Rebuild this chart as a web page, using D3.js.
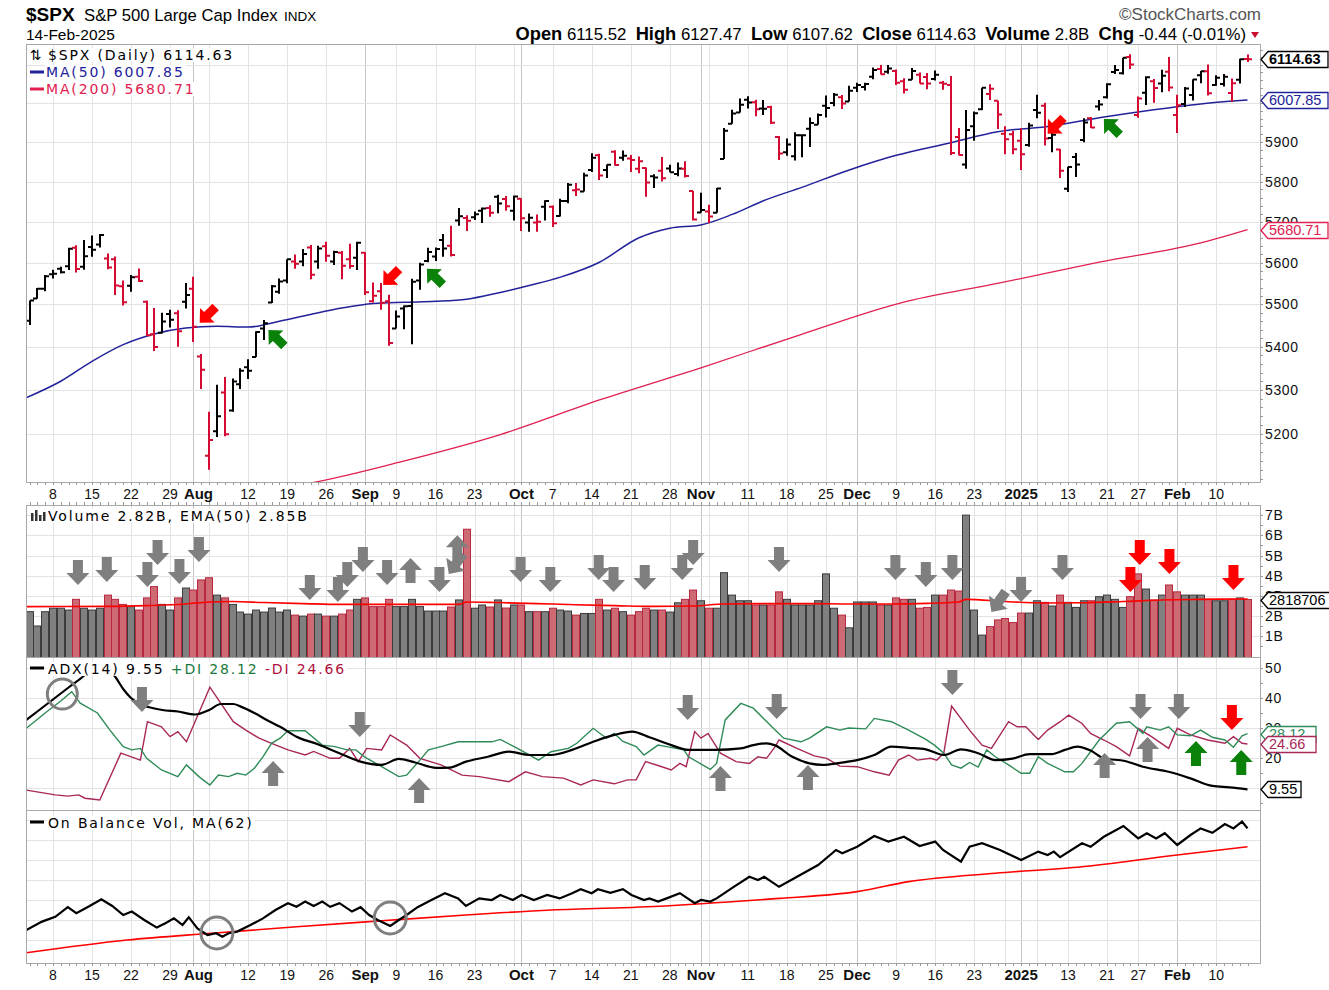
<!DOCTYPE html>
<html><head><meta charset="utf-8">
<script src="https://cdn.jsdelivr.net/npm/d3@7/dist/d3.min.js"></script>
<style>html,body{margin:0;padding:0;background:#fff;}svg{display:block;}</style>
</head><body>
<svg id="chart" width="1329" height="990"></svg>
<script>
// ================= DATA =================
const tradingDays = {
 "2024-07":[2,3,5,8,9,10,11,12,15,16,17,18,19,22,23,24,25,26,29,30,31],
 "2024-08":[1,2,5,6,7,8,9,12,13,14,15,16,19,20,21,22,23,26,27,28,29,30],
 "2024-09":[3,4,5,6,9,10,11,12,13,16,17,18,19,20,23,24,25,26,27,30],
 "2024-10":[1,2,3,4,7,8,9,10,11,14,15,16,17,18,21,22,23,24,25,28,29,30,31],
 "2024-11":[1,4,5,6,7,8,11,12,13,14,15,18,19,20,21,22,25,26,27,29],
 "2024-12":[2,3,4,5,6,9,10,11,12,13,16,17,18,19,20,23,24,26,27,30,31],
 "2025-01":[2,3,6,7,8,10,13,14,15,16,17,21,22,23,24,27,28,29,30,31],
 "2025-02":[3,4,5,6,7,10,11,12,13,14]
};
const prevClose = 5475.09;
const opens = [5461,5514,5537,5572,5585,5591,5636,5590,5638,5644,
 5610,5608,5543,5544,5566,5506,5429,5433,5477,5479,
 5506,5537,5377,5151,5206,5294,5253,5313,5352,5376,
 5443,5504,5530,5557,5603,5603,5637,5603,5640,5603,
 5624,5608,5612,5624,5507,5531,5507,5443,5490,5496,
 5557,5604,5615,5655,5641,5703,5709,5711,5727,5734,
 5762,5756,5727,5757,5698,5698,5737,5737,5714,5751,
 5778,5775,5829,5866,5829,5875,5860,5858,5832,5834,
 5813,5827,5833,5819,5832,5776,5723,5725,5722,5857,
 5947,5976,6009,6002,5986,5990,5913,5874,5864,5917,
 5934,5944,5993,6000,6015,6004,6040,6042,6069,6089,
 6082,6084,6057,6061,6074,6068,6063,6053,6047,5913,
 5843,5940,5984,6024,6006,5921,5920,5903,5892,5982,
 5993,5910,5881,5782,5862,5905,5961,5991,6015,6081,
 6078,6121,5969,6027,6057,6051,6082,5969,5998,6021,
 6073,6083,6047,6050,6026,6061,6115.52];
const highs = [5509.1,5539,5570,5583,5590,5636,5642,5655,5666,5670,
 5622,5615,5557,5570,5586,5509,5491,5480,5487,5486,
 5551,5566,5383,5250,5312,5330,5326,5350,5371,5436,
 5463,5546,5562,5608,5620,5633,5643,5641,5651,5629,
 5628,5646,5651,5626,5552,5551,5523,5485,5497,5561,
 5600,5636,5637,5670,5690,5734,5716,5725,5735,5741,
 5767,5764,5765,5758,5720,5718,5753,5740,5757,5796,
 5796,5822,5871,5870,5843,5879,5878,5867,5863,5835,
 5818,5862,5842,5848,5851,5776,5772,5742,5784,5936,
 5983,6012,6018,6009,6008,5993,5915,5909,5925,5920,
 5963,5973,6020,6026,6021,6045,6053,6053,6093,6100,
 6100,6088,6065,6092,6080,6079,6085,6058,6071,5936,
 5982,5978,6040,6049,6006,5940,5929,5935,5949,6022,
 6001,5928,5882,5837,5872,5961,5964,6008,6052,6100,
 6119,6128,6017,6070,6063,6087,6121,6022,6042,6062,
 6084,6101,6073,6076,6064,6116,6127.47];
const lows = [5451,5513,5531,5562,5574,5582,5576,5583,5614,5637,
 5584,5522,5497,5530,5553,5425,5390,5431,5445,5400,
 5490,5411,5302,5120,5193,5195,5250,5302,5325,5376,
 5416,5503,5525,5550,5585,5591,5560,5585,5602,5594,
 5560,5585,5582,5522,5504,5487,5402,5443,5441,5406,
 5535,5601,5604,5614,5615,5690,5677,5704,5697,5712,
 5721,5727,5703,5677,5675,5675,5703,5687,5713,5746,
 5764,5775,5824,5804,5809,5840,5852,5824,5821,5762,
 5784,5800,5823,5813,5810,5703,5723,5696,5722,5857,
 5947,5976,5986,5966,5969,5946,5854,5865,5853,5861,
 5887,5944,5963,5992,5985,6004,6029,6033,6062,6075,
 6077,6047,6025,6061,6051,6036,6059,6035,5867,5866,
 5832,5903,5982,6008,5933,5869,5869,5829,5888,5961,
 5891,5874,5809,5774,5811,5899,5936,5981,6012,6076,
 6075,6089,5962,5995,6001,6028,6031,5923,5990,6007,
 6052,6020,6045,6043,6003,6051,6107.62];
const closes = [5509.01,5537.02,5567.19,5572.85,5576.98,5633.91,5584.54,5615.35,5631.22,5667.20,
 5588.27,5544.59,5505.00,5564.41,5555.74,5427.13,5399.22,5459.10,5463.54,5436.44,
 5522.30,5446.68,5346.56,5186.33,5240.03,5199.50,5319.31,5344.16,5344.39,5434.43,
 5455.21,5543.22,5554.25,5608.25,5597.12,5620.85,5570.64,5634.61,5616.84,5625.80,
 5592.18,5591.96,5648.40,5528.93,5520.07,5503.41,5408.42,5471.05,5495.52,5554.13,
 5595.76,5626.02,5633.09,5634.58,5618.26,5713.64,5702.55,5718.57,5732.93,5722.26,
 5745.37,5738.17,5762.48,5708.75,5709.54,5699.94,5751.07,5695.94,5751.13,5792.04,
 5780.05,5815.03,5859.85,5815.26,5842.47,5841.47,5864.67,5853.98,5851.20,5797.42,
 5809.86,5808.12,5823.52,5832.92,5813.67,5705.45,5728.80,5712.69,5782.76,5929.04,
 5973.10,5995.54,6001.35,5983.99,5985.38,5949.17,5870.62,5893.62,5916.98,5917.11,
 5948.71,5969.34,5987.37,6021.63,5998.74,6032.38,6047.15,6049.88,6086.49,6075.11,
 6090.27,6052.85,6034.91,6084.19,6051.25,6051.09,6074.08,6050.61,5872.16,5867.08,
 5930.85,5974.07,6040.04,6037.59,5970.84,5906.94,5881.63,5868.55,5942.47,5975.38,
 5909.03,5918.25,5827.04,5836.22,5842.91,5949.91,5937.34,5996.66,6049.24,6086.37,
 6118.71,6101.24,6012.28,6067.70,6039.31,6071.17,6040.53,5994.57,6037.88,6061.48,
 6083.57,6025.99,6066.44,6068.50,6051.97,6115.07,6114.63];
// volume in billions of shares
const volumes = [2.22,1.51,2.22,2.39,2.39,2.30,2.83,2.39,2.30,2.39,
 3.04,2.83,2.58,2.47,2.30,2.90,3.46,2.58,2.30,2.90,
 3.39,3.29,3.79,3.90,3.04,2.90,2.58,2.20,2.10,2.30,
 2.20,2.40,2.20,2.30,2.05,2.00,2.10,2.10,2.00,2.00,
 2.10,2.30,2.83,2.90,2.47,2.47,2.83,2.47,2.47,2.83,
 2.47,2.25,2.25,2.25,2.45,2.80,6.30,2.39,2.55,2.45,
 2.80,2.40,2.55,2.55,2.22,2.22,2.22,2.39,2.30,2.25,
 2.05,2.13,2.13,2.83,2.30,2.39,2.22,2.05,2.22,2.39,
 2.30,2.30,2.20,2.66,2.83,3.29,2.76,2.39,2.39,4.15,
 3.04,2.76,2.76,2.55,2.55,2.55,3.20,2.83,2.55,2.55,
 2.55,2.76,4.09,2.39,2.05,1.42,2.70,2.70,2.70,2.55,
 2.55,2.90,2.83,2.83,2.39,2.43,3.04,3.04,3.29,3.24,
 7.00,2.30,1.06,1.48,1.81,1.88,1.68,2.15,2.15,2.76,
 2.68,2.50,3.04,2.68,2.43,2.76,2.76,2.96,3.04,2.83,
 2.43,2.96,4.09,3.34,2.80,3.04,3.54,3.20,3.04,3.04,
 3.04,2.83,2.76,2.76,2.83,2.90,2.82];
// indicator lines as [bar index, value]
const volEma50 = [[-0.4,2.47],[10,2.48],[15,2.52],[20,2.6],[23,2.7],[26,2.72],[30,2.67],[35,2.62],[40,2.58],[45,2.58],[50,2.58],[55,2.58],[56,2.7],[60,2.67],[65,2.62],[70,2.56],[75,2.52],[80,2.48],[85,2.5],[89,2.6],[95,2.62],[100,2.62],[105,2.6],[110,2.6],[115,2.63],[119,2.7],[120,2.83],[125,2.72],[130,2.65],[135,2.66],[140,2.72],[145,2.8],[150,2.83],[156,2.85]];
const ma50 = [[-0.45,5282],[4,5320],[8,5366],[12,5405],[16,5430],[20,5444],[24,5448],[28,5446],[32,5460],[36,5476],[40,5491],[44,5502],[48,5505],[52,5507],[56,5512],[60,5527],[64,5545],[68,5565],[73,5601],[78,5660],[82,5684],[86,5692],[90,5718],[94,5752],[99,5786],[105,5829],[111,5866],[118,5898],[124,5926],[131,5941],[137,5962],[144,5983],[150,5998],[156,6007.85]];
const ma200 = [[30,5075],[36.6,5093],[47.4,5137],[60.2,5198],[73,5277],[86,5351],[98.7,5428],[111.5,5503],[124.3,5551],[137,5601],[150,5648],[156,5680.71]];
const adx14 = [[-0.4,32.7],[1,35.5],[3,39.5],[5,43.5],[7,47.5],[8,50],[9,51],[10,50],[11,47],[12,43],[13,40],[14.4,37.7],[15.2,37],[17,36],[19,35.5],[21.2,34.5],[23,36],[24.5,38],[26.1,38],[27,37.2],[28.8,35],[30.5,32.5],[32.1,30.4],[34.2,27.1],[37,24.5],[39.7,21.6],[42.4,18.8],[45.1,17.7],[47.3,19.7],[49.4,18.5],[52.1,16.7],[53.8,16.8],[55.9,18.8],[58.7,20.4],[61.4,22.1],[64.1,21],[66.8,21],[69.5,22.7],[72.2,25.4],[74.9,27.7],[77.2,28.8],[79.4,26.9],[82.2,24.3],[84.4,22.7],[87.8,22.7],[91.1,23.2],[92.7,24.3],[94.4,24.9],[95.5,24.2],[97.7,20.4],[99.9,18.2],[101.6,17.7],[103.8,18.4],[106,19.3],[108.2,21],[110.4,23.8],[112.6,23.4],[114.8,22.9],[117.1,21],[119.3,22.9],[121.5,21.6],[123.7,19.3],[125.9,19.8],[128.1,21.3],[130.9,21.3],[132.6,22.7],[134.2,23.8],[135.9,22.5],[137.6,19.9],[140.3,19],[142.6,17.1],[145.9,15.4],[148.7,13.2],[151.5,10.7],[153.7,10.2],[156,9.55]];
const plusDI = [[-0.4,29.9],[2,35],[4,39],[5.4,42.1],[6.5,38.3],[8.7,35],[10.3,29.3],[12,23.8],[13.1,22.7],[14.2,23.2],[15,19.9],[16.9,16],[19,13.8],[20.1,17.7],[21.7,13.8],[23.1,11],[24.2,14.3],[25.5,13.8],[26.6,14.9],[27.7,14.3],[28.8,16.6],[29.9,20.4],[31,24.9],[32.1,26.6],[33.1,29.1],[35.3,29.1],[37.5,24.3],[39.1,23.8],[40.7,22.7],[41.8,22.7],[42.9,20.4],[45.1,17.1],[47.3,13.8],[48.3,14.3],[50,19.3],[51.1,22.7],[52.7,23.8],[54.9,25.4],[57,25.4],[59.2,25.4],[60.3,26.2],[62.5,23.2],[65.2,19.3],[66.8,22.1],[69,23.2],[70.1,24.9],[72.2,29.9],[73.9,26.6],[74.9,28.2],[76,25.5],[77.7,23.8],[78.7,21],[80.5,24.3],[81.6,23.8],[83.8,22.7],[84.4,20.4],[87.2,16.2],[88,18.2],[89.1,32.7],[91.1,38.2],[92.7,36.6],[95.5,29.3],[96.6,26.6],[98.8,25.4],[99.9,26.6],[102.1,30.4],[103.8,29.3],[104.9,30],[107.1,29.7],[108.2,33.2],[110.4,32.1],[112.6,29.3],[114.8,26.2],[115.9,24.3],[117.1,21.6],[118.1,17.7],[119.3,16.6],[120.4,18.5],[121.5,17],[122.6,22.7],[123.7,20.4],[125.4,17.7],[127,14.9],[128.1,14.9],[129.2,20.4],[130.4,18.2],[132.6,15.4],[133.7,15.4],[134.8,18.2],[137,26],[139.2,31.6],[140.9,32.1],[142.6,28.2],[143.1,30.4],[144.8,29.3],[145.9,30.4],[147,27.7],[148.7,27.4],[150,29.3],[151.5,26.9],[153.1,26],[154.2,23.6],[155.3,27.4],[156,28.12]];
const minusDI = [[-0.4,9.3],[3.3,7.7],[4.9,7.3],[6.3,7.7],[7.1,6.6],[9,6],[11.7,21.6],[14.2,19.3],[15.1,32.1],[16.9,30.4],[18,27.1],[19,28.8],[20.1,25.4],[23.1,43.6],[26.1,32.1],[27.7,29.3],[29.4,26.6],[31,24.9],[33.1,22.7],[35.3,21],[36.4,22.2],[38.5,19.9],[39.7,19.9],[41,23.2],[42.1,18.8],[43.2,23.2],[45.1,22.7],[46.2,27.7],[48.3,24.3],[50,19.9],[52.7,17.7],[55.4,14.3],[57.6,13.8],[61.4,12.1],[63.5,15.4],[65.7,13.8],[68.4,13.3],[70.6,11],[72.2,12.7],[74.9,11.4],[76.6,12.7],[77.7,12.7],[78.9,18.8],[80.5,17.5],[82.2,16],[83.3,18.2],[84.1,17.1],[85.2,28.8],[86,26.6],[86.9,28.2],[88.5,21.6],[90.5,18.8],[92.2,18.2],[93.3,20.4],[94.4,19.9],[95.5,23.8],[96,26],[98.3,23.2],[100.5,20.7],[102.1,19.9],[103.8,17.3],[106,17.1],[108.2,15.4],[110.1,14.3],[111.3,19.3],[112.6,21],[113.7,19.3],[115.4,19.9],[116.2,19.3],[117.1,21.6],[118.1,37.3],[120.4,29.3],[122,24.3],[123.2,23.2],[125.4,32.1],[126.5,30.4],[127.6,30.4],[129.2,26.2],[130.4,29.3],[132,32.1],[133.1,34.3],[134.8,31.5],[135.9,28.2],[137.6,26],[139.2,23.8],[140.9,20.7],[142,29.9],[143.7,27.1],[145.9,23.2],[147,29.9],[148.7,27.7],[150.9,26],[153.1,24.9],[154.2,27.1],[155.3,24.9],[156,24.66]];
// On Balance Volume (chart units, unlabeled axis)
const obv = [[-0.4,2.5],[1.6,4.6],[3.3,5.8],[4.9,8.2],[6,6.7],[7.7,8.5],[9.2,10.2],[10.6,8.5],[12,6.25],[13.1,7.1],[14.7,5],[16.3,3.1],[17.4,4.2],[18.5,5.4],[19.6,3.75],[20.4,5.7],[21.5,2.9],[22.8,1.25],[23.9,1.7],[24.7,0.8],[25.5,1.7],[26.6,2.1],[28.3,3.75],[29.9,5.4],[31.5,7.5],[33.1,9.2],[34.2,8.3],[35.3,9.6],[36.4,8.5],[37.5,9.6],[38.5,8.3],[39.7,9.2],[41.3,7.1],[42.4,8.2],[43.5,6.25],[44.6,5],[46.2,3.5],[47.3,5],[48.3,6.25],[49.7,8.2],[51.1,9.6],[53.2,11.7],[54.9,10.4],[55.9,8.5],[57.6,10.4],[59.2,10],[60.3,11.25],[61.9,10],[63,11.25],[64.6,10],[66.3,11.25],[67.9,10.4],[69.5,11.7],[70.6,12.7],[72,11.7],[72.8,12.7],[74.4,11.8],[76,12.7],[77.1,11.25],[78.7,10],[79.4,10.4],[80.5,9.6],[81.6,10.4],[83.3,11.7],[85.2,9.2],[86,10],[87.2,9.6],[88,10.4],[90.2,13.3],[92.2,15.8],[93.3,15],[94.1,15.8],[96,13.3],[98.3,15.8],[101,18.75],[103.3,22.5],[104.1,21.7],[106,23.3],[108.2,26],[110,24.6],[112,25.8],[114,23.5],[116,24.6],[117,22.5],[119.3,19.6],[120.4,23.3],[122,24.2],[124.3,22.5],[127,20],[129.2,22.1],[130.4,21.25],[131.2,22.1],[132,20.7],[134.8,24.2],[135.9,23.3],[137.6,25.8],[140.1,28.5],[142,25.4],[143.1,26.7],[144.3,25.4],[145.4,26.7],[147,23.75],[148.7,26.25],[150,27.9],[151.5,26.8],[153.1,29],[154.2,27.9],[155.3,29.6],[156,27.9]];
const obvMa62 = [[-0.4,-3.2],[12.5,0],[23.4,1.7],[34.2,3.3],[45.1,4.8],[55.9,6.25],[66.8,7.5],[81.4,8.5],[87.8,9.3],[96,10.4],[106,12.1],[112.6,14.6],[123.7,16.7],[134.8,18.3],[145.9,21],[156,23.3]];

// axis ticks / labels
const priceGrid = [5200,5300,5400,5500,5600,5700,5800,5900,6000,6100];
const priceLabels = [5200,5300,5400,5500,5600,5700,5800,5900];
const volTicks = [1,2,3,4,5,6,7];
const adxTicks = [10,20,30,40,50];
const adxLabels = [20,30,40,50];
const obvGrid = [0,5,10,15,20,25,30];
const xLabels = [[3,"8"],[8,"15"],[13,"22"],[18,"29"],[21,"Aug",1],[28,"12"],[33,"19"],[38,"26"],[43,"Sep",1],[47,"9"],[52,"16"],[57,"23"],[63,"Oct",1],[67,"7"],[72,"14"],[77,"21"],[82,"28"],[86,"Nov",1],[92,"11"],[97,"18"],[102,"25"],[106,"Dec",1],[111,"9"],[116,"16"],[121,"23"],[127,"2025",1],[133,"13"],[138,"21"],[142,"27"],[147,"Feb",1],[152,"10"]];

// annotations: [bar index, value at tip, colour, rotation]
const priceArrows = [[21.8,5456,"r",45],[30.6,5439,"g",135],[45.3,5546,"r",45],[50.9,5585,"g",135],[130.4,5921,"r",45],[137.6,5959,"g",135]];
const volArrows = [[6.2,3.54,"k",0],[9.9,3.69,"k",0],[15.1,3.44,"k",0],[16.4,4.53,"k",0],[19.2,3.59,"k",0],[21.7,4.68,"k",0],[35.9,2.8,"k",0],[39.5,2.7,"k",0],[40.7,3.44,"k",0],[42.7,4.18,"k",0],[45.8,3.54,"k",0],[48.8,4.88,"k",180],[52.5,3.19,"k",0],[53.7,4.08,"k",35],[54.8,6.0,"k",180],[62.9,3.69,"k",0],[66.7,3.19,"k",0],[72.9,3.79,"k",0],[74.8,3.19,"k",0],[78.8,3.29,"k",0],[83.6,3.79,"k",0],[85.0,4.53,"k",0],[96.0,4.18,"k",0],[110.9,3.79,"k",0],[114.8,3.44,"k",0],[118.2,3.79,"k",0],[123.2,2.2,"k",35],[127.0,2.7,"k",0],[132.3,3.79,"k",0],[142.2,4.53,"r",0],[141.0,3.19,"r",0],[146.0,4.08,"r",0],[154.2,3.29,"r",0]];
const adxArrows = [[14.4,35.3,"k",0],[31.2,19,"k",180],[42.3,27,"k",0],[49.9,13.3,"k",180],[84.3,32.7,"k",0],[88.5,17.3,"k",180],[95.7,33,"k",0],[99.7,17.7,"k",180],[118.2,41,"k",0],[137.7,21.7,"k",180],[142.3,33,"k",0],[143.2,27,"k",180],[147.2,33,"k",0],[154,29.3,"r",0],[149.4,25.7,"g",180],[155.2,22.7,"g",180]];
const adxCircles = [[4.2,41.3]];
const obvCircles = [[24,1.75],[46.2,5.5]];

// ================= DRAWING =================
const svg = d3.select("#chart");
const L = 26, R = 1260;
const P = {price:[44,482], vol:[505,657], adx:[657,810], obv:[810,963]};
const FA = "'Liberation Sans', Arial, sans-serif";
const FL = "'DejaVu Sans', Verdana, sans-serif";
const FN = "'Liberation Sans Narrow', 'Liberation Sans', Arial, sans-serif";
const COL = {up:"#000000", down:"#d40a33", ma50:"#22229a", ma200:"#e02050", grid:"#e3e3e3", mgrid:"#c4c4c4",
  vUpF:"#808080", vUpS:"#3c3c3c", vDnF:"#cd6a74", vDnS:"#b8283e", pdi:"#2e8b57", mdi:"#a8285a",
  arrow:{k:"#7f7f7f", r:"#ff0000", g:"#0a820a"}};

const dates = [];
Object.keys(tradingDays).forEach(k => { const [yy,mm] = k.split("-").map(Number); tradingDays[k].forEach(d => dates.push(new Date(yy, mm-1, d))); });
const n = closes.length;

const x = d3.scaleLinear().domain([-0.45, 157.6]).range([L, R]);
const yP = d3.scaleLog().domain([5093.1, 6155.4]).range([P.price[1], P.price[0]]);
const yV = d3.scaleLinear().domain([0, 7.5]).range([656.5, 505]);
const yA = d3.scaleLinear().domain([8/3, 161/3]).range([P.adx[1], P.adx[0]]);
const yO = d3.scaleLinear().domain([-5.75, 32.5]).range([P.obv[1], P.obv[0]]);

const defs = svg.append("defs");
Object.entries(P).forEach(([k,[t,b]]) => defs.append("clipPath").attr("id","clip-"+k).append("rect").attr("x",L).attr("y",t).attr("width",R-L).attr("height",b-t));

// week starts / month starts
const weekStarts = [], monthStarts = [];
for (let i = 1; i < n; i++) {
  const a = dates[i-1], b = dates[i];
  if (b.getMonth() !== a.getMonth()) monthStarts.push(i);
  if (b.getDay() < a.getDay() || (b - a) > 3.5*864e5) weekStarts.push(i);
}

// ---- grids
const gGrid = svg.append("g");
Object.entries(P).forEach(([k,[t,b]]) => {
  gGrid.selectAll(null).data(weekStarts).join("line")
    .attr("x1", d => Math.round(x(d))+0.5).attr("x2", d => Math.round(x(d))+0.5).attr("y1", t).attr("y2", b)
    .attr("stroke", COL.grid);
  gGrid.selectAll(null).data(monthStarts).join("line")
    .attr("x1", d => Math.round(x(d))+0.5).attr("x2", d => Math.round(x(d))+0.5).attr("y1", t).attr("y2", b)
    .attr("stroke", COL.mgrid);
});
function hgrid(vals, scale) {
  gGrid.selectAll(null).data(vals).join("line").attr("x1", L).attr("x2", R)
    .attr("y1", d => Math.round(scale(d))+0.5).attr("y2", d => Math.round(scale(d))+0.5).attr("stroke", COL.grid);
}
hgrid(priceGrid, yP); hgrid(volTicks, yV); hgrid(adxTicks, yA); hgrid(obvGrid, yO);

// ---- price panel
const gPrice = svg.append("g").attr("clip-path","url(#clip-price)");
const isUp = i => closes[i] >= (i ? closes[i-1] : prevClose);
const lineGen = sc => d3.line().x(d => x(d[0])).y(d => sc(d[1]));
gPrice.append("path").datum(ma200).attr("d", lineGen(yP).curve(d3.curveMonotoneX)).attr("fill","none").attr("stroke",COL.ma200).attr("stroke-width",1.3);
gPrice.append("path").datum(ma50).attr("d", lineGen(yP).curve(d3.curveMonotoneX)).attr("fill","none").attr("stroke",COL.ma50).attr("stroke-width",1.5);
gPrice.selectAll("path.bar").data(d3.range(n)).join("path").attr("class","bar")
  .attr("d", i => { const xi = Math.round(x(i)); return `M${xi},${yP(highs[i])}V${yP(lows[i])}M${xi-4},${yP(opens[i])}H${xi}M${xi},${yP(closes[i])}H${xi+4}`; })
  .attr("fill","none").attr("stroke", i => isUp(i) ? COL.up : COL.down).attr("stroke-width",2);

// arrow glyph: tip at origin pointing down
const arrowD = "M0,0 L-11.5,-12 L-5,-12 L-5,-25 L5,-25 L5,-12 L11.5,-12 Z";
function drawArrows(g, data, ys, scale) {
  g.selectAll(null).data(data).join("path").attr("d", arrowD)
    .attr("transform", d => `translate(${x(d[0])},${ys(d[1])}) rotate(${d[3]}) scale(${scale})`)
    .attr("fill", d => COL.arrow[d[2]]);
}
drawArrows(svg.append("g"), priceArrows, yP, 0.9);

// ---- volume panel
const gVol = svg.append("g").attr("clip-path","url(#clip-vol)");
gVol.selectAll("rect").data(d3.range(n)).join("rect")
  .attr("x", i => Math.round(x(i)) - 3.5).attr("width", 7)
  .attr("y", i => yV(volumes[i])).attr("height", i => yV(0) - yV(volumes[i]) + 2)
  .attr("fill", i => isUp(i) ? COL.vUpF : COL.vDnF).attr("stroke", i => isUp(i) ? COL.vUpS : COL.vDnS).attr("stroke-width",1);
gVol.append("path").datum(volEma50).attr("d", lineGen(yV).curve(d3.curveMonotoneX)).attr("fill","none").attr("stroke","#ff0000").attr("stroke-width",1.6);
drawArrows(svg.append("g"), volArrows, yV, 1);

// ---- ADX panel
const gAdx = svg.append("g").attr("clip-path","url(#clip-adx)");
gAdx.append("path").datum(minusDI).attr("d", lineGen(yA)).attr("fill","none").attr("stroke",COL.mdi).attr("stroke-width",1.4);
gAdx.append("path").datum(plusDI).attr("d", lineGen(yA)).attr("fill","none").attr("stroke",COL.pdi).attr("stroke-width",1.4);
gAdx.append("path").datum(adx14).attr("d", lineGen(yA).curve(d3.curveMonotoneX)).attr("fill","none").attr("stroke","#000").attr("stroke-width",2.2);
drawArrows(svg.append("g"), adxArrows, yA, 1);
svg.append("g").selectAll(null).data(adxCircles).join("circle").attr("cx", d => x(d[0])).attr("cy", d => yA(d[1])).attr("r",15)
  .attr("fill","none").attr("stroke","#7f7f7f").attr("stroke-width",3);

// ---- OBV panel
const gObv = svg.append("g").attr("clip-path","url(#clip-obv)");
gObv.append("path").datum(obvMa62).attr("d", lineGen(yO).curve(d3.curveMonotoneX)).attr("fill","none").attr("stroke","#ff0000").attr("stroke-width",1.6);
gObv.append("path").datum(obv).attr("d", lineGen(yO)).attr("fill","none").attr("stroke","#000").attr("stroke-width",2.2);
svg.append("g").selectAll(null).data(obvCircles).join("circle").attr("cx", d => x(d[0])).attr("cy", d => yO(d[1])).attr("r",16)
  .attr("fill","none").attr("stroke","#7f7f7f").attr("stroke-width",3);

// ---- frames
Object.values(P).forEach(([t,b]) => svg.append("rect").attr("x",L+0.5).attr("y",t+0.5).attr("width",R-L).attr("height",b-t).attr("fill","none").attr("stroke","#a8a8a8"));

// minor day ticks on x label strips
[[P.price[1],1],[P.vol[0],-1],[P.obv[1],1]].forEach(([yy,dir]) => {
  svg.append("g").selectAll(null).data(d3.range(n)).join("line")
    .attr("x1", i => Math.round(x(i))+0.5).attr("x2", i => Math.round(x(i))+0.5).attr("y1", yy).attr("y2", yy + 3*dir)
    .attr("stroke","#9a9a9a");
});
// right axis minor ticks
const rt = svg.append("g");
rt.selectAll(null).data(d3.range(5100, 6160, 20)).join("line").attr("x1",R).attr("x2",R+3)
  .attr("y1", d => Math.round(yP(d))+0.5).attr("y2", d => Math.round(yP(d))+0.5).attr("stroke","#9a9a9a");
rt.selectAll(null).data(d3.range(0.5, 7.5, 0.5)).join("line").attr("x1",R).attr("x2",R+3)
  .attr("y1", d => Math.round(yV(d))+0.5).attr("y2", d => Math.round(yV(d))+0.5).attr("stroke","#9a9a9a");
rt.selectAll(null).data(d3.range(5, 54, 5)).join("line").attr("x1",R).attr("x2",R+3)
  .attr("y1", d => Math.round(yA(d))+0.5).attr("y2", d => Math.round(yA(d))+0.5).attr("stroke","#9a9a9a");

// ---- x labels
function xAxisLabels(yBase) {
  svg.append("g").selectAll(null).data(xLabels).join("text")
    .attr("x", d => x(d[0]) + (d[1]==="Aug" ? 5 : 0)).attr("y", yBase).attr("text-anchor","middle")
    .attr("font-family", FA).attr("font-size", d => d[2] ? 15 : 14).attr("font-weight", d => d[2] ? "bold" : "normal")
    .attr("fill","#111").text(d => d[1]);
}
xAxisLabels(499); xAxisLabels(980);

// ---- right axis labels
function yLabels(vals, sc, fmt) {
  svg.append("g").selectAll(null).data(vals).join("text").attr("x", R+5).attr("y", d => sc(d)).attr("dy","0.36em")
    .attr("font-family", FA).attr("font-size",14).attr("letter-spacing","0.6px").attr("fill","#111").text(fmt);
}
yLabels(priceLabels, yP, d => d);
yLabels(volTicks, yV, d => d + "B");
yLabels(adxLabels, yA, d => d);

// ---- value tags
function tag(v, sc, label, color, w, bold) {
  const yy = Math.round(sc(v));
  const g = svg.append("g");
  g.append("path").attr("d", `M${R+1},${yy+0.5} L${R+8},${yy-7.5} L${R+w},${yy-7.5} L${R+w},${yy+8.5} L${R+8},${yy+8.5} Z`)
    .attr("fill","#fff").attr("stroke",color).attr("stroke-width",1.3);
  g.append("text").attr("x", R+9).attr("y", yy).attr("dy","0.37em").attr("font-family",FA).attr("font-size",14.5)
    .attr("font-weight", bold ? "bold" : "normal").attr("fill",color).text(label);
}
tag(closes[n-1], yP, "6114.63", "#000", 68, true);
tag(6007.85, yP, "6007.85", COL.ma50, 68);
tag(5680.71, yP, "5680.71", COL.ma200, 68);
tag(volumes[n-1], yV, "2818706", "#000", 70);
tag(28.12, yA, "28.12", COL.pdi, 56);
tag(24.66, yA, "24.66", COL.mdi, 56);
tag(9.55, yA, "9.55", "#000", 41);

// ---- legends
function legendText(xx, yy, parts) {
  const g = svg.append("g");
  const t = g.append("text").attr("x", xx).attr("y", yy).attr("font-family", FL).attr("font-size", 14).attr("letter-spacing","1.85px");
  parts.forEach(([s,c]) => t.append("tspan").attr("fill", c).text(s));
  const bb = t.node().getBBox();
  g.insert("rect","text").attr("x", bb.x-1).attr("y", bb.y+1).attr("width", bb.width+2).attr("height", bb.height-2).attr("fill","#fff");
  return g;
}
// price legend
legendText(30, 60, [["\u21C5","#000"]]);
legendText(48, 60, [["$SPX (Daily) 6114.63","#000"]]);
legendText(46, 77, [["MA(50) 6007.85", COL.ma50]]);
legendText(46, 94, [["MA(200) 5680.71", COL.ma200]]);
svg.append("line").attr("x1",30).attr("x2",44).attr("y1",72).attr("y2",72).attr("stroke",COL.ma50).attr("stroke-width",3);
svg.append("line").attr("x1",30).attr("x2",44).attr("y1",89).attr("y2",89).attr("stroke",COL.ma200).attr("stroke-width",3);
// volume legend
legendText(48, 521, [["Volume 2.82B, EMA(50) 2.85B","#000"]]);
svg.append("g").selectAll(null).data([[31,8],[35,11],[39,6],[43,9]]).join("rect")
  .attr("x", d => d[0]).attr("y", d => 521 - d[1]).attr("width", 2.5).attr("height", d => d[1]).attr("fill","#333");
// adx legend
legendText(48, 674, [["ADX(14) 9.55 ","#000"],["+DI 28.12 ","#1a7a3c"],["-DI 24.66","#b0103c"]]);
svg.append("line").attr("x1",30).attr("x2",44).attr("y1",668).attr("y2",668).attr("stroke","#000").attr("stroke-width",3);
// obv legend
legendText(48, 828, [["On Balance Vol, MA(62)","#000"]]);
svg.append("line").attr("x1",30).attr("x2",44).attr("y1",822).attr("y2",822).attr("stroke","#000").attr("stroke-width",3);

// ---- header
svg.append("text").attr("x",26).attr("y",21).attr("font-family",FA).attr("font-size",19).attr("font-weight","bold").text("$SPX");
svg.append("text").attr("x",84).attr("y",21).attr("font-family",FA).attr("font-size",16.7).text("S&P 500 Large Cap Index");
svg.append("text").attr("x",284).attr("y",21).attr("font-family",FA).attr("font-size",13.5).text("INDX");
svg.append("text").attr("x",26).attr("y",40).attr("font-family",FA).attr("font-size",15.5).text("14-Feb-2025");
svg.append("text").attr("x",1261).attr("y",20).attr("text-anchor","end").attr("font-family",FN).attr("font-size",17).attr("fill","#555").text("\u00A9StockCharts.com");
const hdr = svg.append("text").attr("x",1246).attr("y",40).attr("text-anchor","end").attr("font-family",FN).attr("fill","#000");
[["Open",1],[" 6115.52  ",0],["High",1],[" 6127.47  ",0],["Low",1],[" 6107.62  ",0],["Close",1],[" 6114.63  ",0],["Volume",1],[" 2.8B  ",0],["Chg",1],[" -0.44 (-0.01%)",0]]
  .forEach(([s,b]) => hdr.append("tspan").attr("font-weight", b ? "bold" : "normal").attr("font-size", b ? 18.3 : 16.8).attr("xml:space","preserve").text(s));
svg.append("path").attr("d","M1251,32 L1259,32 L1255,38 Z").attr("fill","#c8102e");
</script>
</body></html>
